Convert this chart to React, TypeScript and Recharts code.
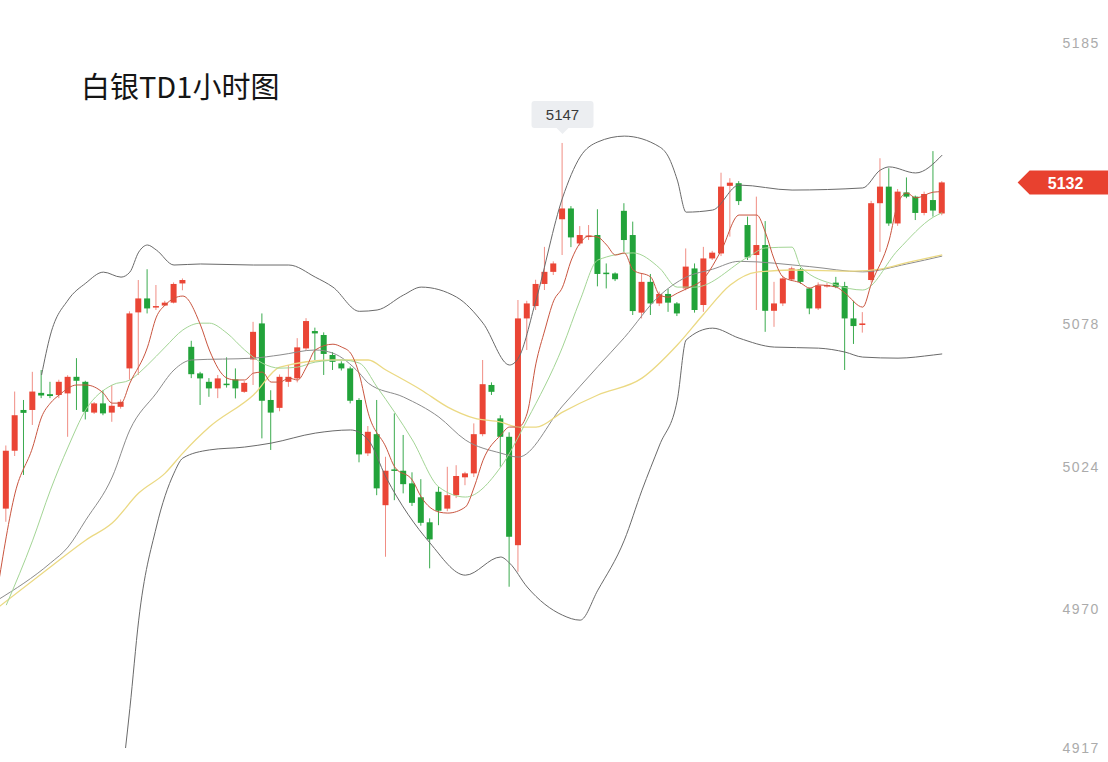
import React from 'react';
import { ComposedChart, Bar, Line, XAxis, YAxis, ReferenceLine, ReferenceDot } from 'recharts';

// 白银TD 1小时K线，逐根读图（开、高、低、收）
const opens = [
  4976, 5008, 5030, 5045.5, 5045.5, 5052, 5051.5, 5051.2, 5051.8, 5058.1,
  5056.2, 5044.5, 5048, 5044.5, 5046.7, 5061.3, 5082.6, 5087.9, 5084.5, 5085.2,
  5086.3, 5093.6, 5069.5, 5059.4, 5056.2, 5053.7, 5055.5, 5057.1, 5052.4, 5064.7,
  5078.4, 5049.3, 5046.3, 5056.2, 5057.5, 5068.9, 5075.5, 5074, 5066.4, 5063.2,
  5061.3, 5049.3, 5029, 5036.3, 5009.3, 5022.9, 5022.4, 5017.6, 5012.3, 5002.8,
  5014.4, 5008, 5013.1, 5019.9, 5021.4, 5036.3, 5055, 5042.3, 5035.3, 4994.1,
  5080.3, 5085, 5093.4, 5098, 5118, 5122.1, 5108.8, 5111.4, 5112, 5097.7,
  5097.4, 5121.2, 5112, 5082.5, 5094.2, 5086, 5089.6, 5086, 5091.7, 5099.3,
  5085.4, 5103.1, 5105, 5130.7, 5131.7, 5115.8, 5104.4, 5108.2, 5083.2, 5086,
  5095.1, 5099, 5091.7, 5084.1, 5092.6, 5093.9, 5092.6, 5080.3, 5077.8, 5094.9,
  5124.1, 5130.4, 5116.4, 5128.2, 5126.6, 5120.4, 5125.3, 5120.2,
];
const highs = [
  4978, 5032, 5052.5, 5049.3, 5060, 5060.7, 5056.2, 5057, 5058.7, 5065.2,
  5056.6, 5048.5, 5053, 5055, 5049.5, 5083, 5094.9, 5099, 5093, 5087,
  5094, 5095.5, 5071.8, 5060, 5057.6, 5058.8, 5065.5, 5061.3, 5056.5, 5079,
  5082.2, 5053, 5059, 5062.6, 5072.8, 5080.4, 5076.8, 5075, 5067.5, 5064,
  5062, 5050, 5039.4, 5049.3, 5027.7, 5044.2, 5036, 5021.8, 5019.2, 5004.3,
  5016.3, 5023.9, 5024.5, 5022, 5040.4, 5064.5, 5056, 5043.5, 5037, 5087.3,
  5087, 5095, 5107.5, 5102, 5147, 5123, 5115.4, 5115.8, 5121.8, 5101.2,
  5097.8, 5124.1, 5117.1, 5097.2, 5097.2, 5090.5, 5091.5, 5086.5, 5106.9, 5101.2,
  5107.5, 5106, 5135.7, 5133.6, 5132.5, 5119, 5126.6, 5117.3, 5094.2, 5096.5,
  5100, 5099.5, 5092, 5094, 5093.8, 5096.1, 5094.2, 5087, 5082.7, 5125,
  5141.2, 5137.4, 5129.5, 5133.9, 5127, 5128.5, 5143.9, 5132.5,
];
const lows = [
  4964, 5003, 5028, 5020.8, 5039.8, 5050, 5050, 5050, 5035.3, 5045.5,
  5041.9, 5044, 5043.5, 5041, 5046, 5057, 5058.8, 5082.2, 5083.5, 5085,
  5086, 5091, 5057.6, 5047.4, 5050.5, 5050, 5054, 5049.9, 5052, 5055,
  5034.7, 5030.3, 5045, 5054.3, 5056, 5068, 5064.5, 5058.8, 5060.7, 5060.5,
  5048, 5025.6, 5028, 5013.1, 4989.7, 5011.2, 5013.8, 5009, 5001.5, 4985.3,
  5001.7, 5007, 5012, 5016.9, 5020, 5035.5, 5051.2, 5023.9, 4978.3, 4984,
  5068.3, 5083.5, 5091.1, 5096.8, 5104.4, 5107.4, 5108, 5110.1, 5092.5, 5091.7,
  5094.5, 5105.6, 5081.6, 5080.3, 5081.6, 5085, 5082.8, 5081.2, 5091, 5082.5,
  5082.8, 5102.5, 5104, 5111.4, 5123.4, 5102.5, 5083.5, 5075.2, 5077.1, 5085,
  5094.5, 5093.5, 5081.9, 5083.5, 5092, 5091.8, 5060.7, 5070.6, 5074.9, 5094,
  5105.6, 5115.5, 5115.5, 5126, 5117.7, 5119.5, 5119, 5119.5,
];
const closes = [
  4968, 5030, 5043.5, 5044.4, 5052.5, 5051, 5050.8, 5056.2, 5058.1, 5056.6,
  5044.8, 5048, 5044.2, 5047.1, 5048.6, 5082.2, 5087.9, 5084.1, 5085, 5086.3,
  5093.4, 5094.9, 5059.1, 5057.5, 5053.7, 5057.5, 5055, 5053.7, 5055.8, 5075.2,
  5049, 5044.5, 5058.1, 5058.1, 5069.3, 5079.3, 5074.6, 5066.8, 5063.8, 5061.3,
  5049, 5028.6, 5037.2, 5015.7, 5022.4, 5022.4, 5017.3, 5010.2, 5002.6, 4996.3,
  5007.2, 5013.1, 5020.4, 5021.4, 5036.3, 5055.3, 5052.4, 5035.3, 4997.3, 5080.3,
  5086, 5093.4, 5098, 5101.2, 5122.1, 5111.1, 5112, 5111.8, 5097.2, 5097.3,
  5095.2, 5110.1, 5083.1, 5094.2, 5086, 5089.6, 5086.3, 5082.2, 5100, 5083.5,
  5103.1, 5105.3, 5130.4, 5131.9, 5124.9, 5103.5, 5108.2, 5083.2, 5086, 5095.5,
  5099.3, 5094.2, 5084.1, 5092.8, 5093, 5092.3, 5080.3, 5077.4, 5078.4, 5124.1,
  5130.4, 5116.4, 5128.5, 5126.6, 5120.4, 5127.6, 5121.3, 5132,
];

// 指标线：[K线序号, 数值]
const upperBand: [number, number][] = [
  [5, 5058.8], [6, 5074], [8, 5087.3], [10, 5093.7], [12, 5097.9], [14, 5096], [15, 5097.9],
  [16, 5105.5], [17, 5108.2], [18, 5106.3], [20, 5100.6], [23, 5101], [29, 5100.6], [33, 5100.6],
  [36, 5096], [38, 5092.2], [41, 5083], [43, 5083.5], [46, 5089.2], [48, 5092.2], [52, 5088.4],
  [55, 5078.5], [58, 5062.6], [59, 5065.2], [61, 5087.3], [64, 5126.1], [66, 5141.7], [68, 5147.4],
  [71, 5149.6], [75, 5145.5], [76, 5141.7], [77, 5132.9], [78, 5120.7], [81, 5121.5], [84, 5131],
  [90, 5129.1], [98, 5129.9], [100, 5136.7], [101, 5137.9], [104, 5135.6], [107, 5142.4],
];
const midBand: [number, number][] = [
  [0, 4973.2], [6, 4987.3], [8, 4993.4], [10, 5003.6], [13, 5020], [15, 5037.9], [18, 5051.9],
  [20, 5060.7], [22, 5064.5], [29, 5065.2], [32, 5066.4], [36, 5068.3], [38, 5067.1], [41, 5059.5],
  [42, 5055.7], [46, 5050.4], [50, 5042.8], [53, 5034.1], [57, 5029.1], [59, 5027.6], [64, 5047],
  [68, 5062], [71, 5073], [75, 5089], [78, 5096], [81, 5099], [84, 5102], [92, 5100], [98, 5098],
  [103, 5101], [107, 5104],
];
const lowerBand: [number, number][] = [
  [14, 4902], [15, 4932], [16, 4965.6], [18, 5001], [20, 5021.5], [21, 5027.2], [24, 5030.3], [28, 5031.4],
  [31, 5032.9], [36, 5036.7], [40, 5037.9], [42, 5034.1], [44, 5020], [49, 4994.9], [53, 4982.7],
  [57, 4989.6], [58, 4987.3], [60, 4978.2], [64, 4967.5], [66, 4965.6], [68, 4977], [71, 4996],
  [73, 5015], [75, 5032.2], [77, 5049.3], [78, 5072.1], [81, 5076.6], [84, 5072.8], [88, 5069.4],
  [93, 5069], [96, 5067.5], [98, 5065.6], [102, 5065.2], [106, 5066.4], [107, 5066.8],
];
const ma5: [number, number][] = [
  [0, 4977], [2, 5013.9], [4, 5031.4], [5, 5042.8], [6, 5048.1], [7, 5051.2], [9, 5055], [10, 5055],
  [12, 5051.9], [13, 5048.1], [14, 5048.1], [15, 5055.7], [17, 5069.4], [18, 5080.8], [19, 5085.4],
  [21, 5088.8], [23, 5077.8], [24, 5068.3], [26, 5057.6], [27, 5056.9], [28, 5056.9], [29, 5059.5],
  [30, 5059.9], [31, 5056.1], [32, 5056.1], [33, 5057.6], [34, 5056.9], [35, 5061.8], [36, 5068.3],
  [38, 5070.5], [39, 5069.4], [40, 5067.1], [41, 5058.8], [42, 5044.3], [44, 5031.4], [45, 5023.8],
  [47, 5018.8], [48, 5012.4], [50, 5006.7], [51, 5006.3], [53, 5008.6], [54, 5016.2], [55, 5026.4],
  [57, 5035.9], [58, 5039], [59, 5039], [60, 5044.3], [61, 5063.3], [62, 5075.9], [63, 5087],
  [64, 5092.2], [65, 5102.5], [66, 5109], [67, 5111.6], [68, 5111.2], [69, 5108.2], [70, 5104.4],
  [71, 5105.2], [72, 5098.7], [74, 5096], [75, 5089.2], [76, 5088.4], [77, 5089.9], [78, 5091.5],
  [80, 5095.5], [82, 5106.3], [84, 5119.6], [86, 5119.6], [87, 5112.8], [88, 5102.5], [89, 5096],
  [91, 5093.7], [92, 5091.8], [93, 5093], [95, 5092.2], [96, 5089.9], [98, 5084.6], [99, 5093.7],
  [101, 5110.1], [102, 5124.2], [103, 5128], [104, 5126.1], [106, 5128.3], [107, 5128.5],
];
const ma10: [number, number][] = [
  [1, 4971.3], [4, 4996], [6, 5015], [8, 5031.4], [10, 5045.5], [13, 5055], [15, 5056.9],
  [17, 5062.6], [19, 5069.4], [21, 5075.9], [23, 5078.5], [24, 5078.5], [26, 5074.7], [28, 5068.3],
  [30, 5063.3], [32, 5061.4], [34, 5061.8], [36, 5063.7], [39, 5064.5], [41, 5063.3], [43, 5054.2],
  [47, 5034.1], [50, 5016.2], [53, 5012.4], [57, 5023.8], [60, 5041.7], [64, 5069.4], [66, 5087.3],
  [68, 5102.5], [72, 5105.2], [75, 5099.4], [77, 5092.2], [79, 5092.2], [85, 5103.6], [87, 5107.1],
  [90, 5107.4], [91, 5099.8], [95, 5093], [98, 5091.1], [102, 5106.3], [106, 5118.8], [107, 5120.5],
];
const ma60: [number, number][] = [
  [0, 4970.2], [6, 4985.8], [10, 4996], [13, 5002.5], [16, 5013.9], [19, 5021.5], [21, 5029.1],
  [24, 5039], [29, 5051.2], [32, 5061.8], [38, 5064.5], [42, 5064.5], [44, 5060.7], [48, 5053.1],
  [51, 5046.6], [54, 5042.4], [57, 5040.9], [59, 5039], [61, 5039], [64, 5044.7], [68, 5051.2],
  [73, 5057.6], [77, 5070.2], [80, 5082], [83, 5093], [86, 5097.9], [90, 5098.7], [97, 5098.3],
  [100, 5099], [103, 5101.5], [107, 5104.5],
];

const yTicks = [4917, 4970, 5024, 5078, 5185];
const lastPrice = 5132;
const highMark = { index: 64, value: 5147 };

const lineSets: Record<string, [number, number][]> = {
  upper: upperBand, mid: midBand, lower: lowerBand, ma5, ma10, ma60,
};

const data = opens.map((o, i) => {
  const row: any = {
    i, open: o, high: highs[i], low: lows[i], close: closes[i], range: [lows[i], highs[i]],
  };
  Object.entries(lineSets).forEach(([key, pts]) => {
    const p = pts.find((q) => q[0] === i);
    row[key] = p ? p[1] : null;
  });
  return row;
});

const RED = '#ea4535';
const GREEN = '#22a33a';

const Candle = (props: any) => {
  let { x, y, width, height, payload } = props;
  if (height < 0) { y += height; height = -height; }
  const { open, close, high, low } = payload;
  const up = close >= open;
  const k = high === low ? 0 : height / (high - low);
  const yOf = (v: number) => y + (high - v) * k;
  const top = yOf(Math.max(open, close));
  const bot = yOf(Math.min(open, close));
  const cx = x + width / 2;
  return (
    <g>
      <line x1={cx} x2={cx} y1={y} y2={y + height} stroke={up ? '#f08d84' : '#3bab4f'} strokeWidth={1} />
      <rect x={x} y={top} width={width} height={Math.max(1.5, bot - top)} fill={up ? RED : GREEN} />
    </g>
  );
};

const CHART_W = 1115;
const PLOT_W = 953.6;

const YTick = ({ y, payload }: any) => (
  <text
    x={CHART_W - 8}
    y={y}
    textAnchor="end"
    dominantBaseline="central"
    fill="#ababab"
    fontSize={14}
    letterSpacing={1.6}
    fontFamily="'Liberation Sans', Arial, sans-serif"
  >
    {payload.value}
  </text>
);

const PriceTag = ({ viewBox }: any) => {
  const cy = viewBox.y;
  const tip = viewBox.x + viewBox.width + 71;
  return (
    <g>
      <polygon
        points={`${tip},${cy} ${tip + 12},${cy - 12} ${CHART_W},${cy - 12} ${CHART_W},${cy + 12} ${tip + 12},${cy + 12}`}
        fill="#e8412f"
      />
      <text x={tip + 48} y={cy + 1} textAnchor="middle" dominantBaseline="central" fill="#fff"
        fontSize={16} fontWeight={700} fontFamily="'Liberation Sans', Arial, sans-serif">
        {lastPrice}
      </text>
    </g>
  );
};

const HighCallout = ({ viewBox }: any) => {
  const cx = viewBox.x + viewBox.width / 2;
  const cy = viewBox.y + viewBox.height / 2;
  return (
    <g>
      <rect x={cx - 31} y={cy - 42} width={62} height={27} rx={3} fill="#eceef1" />
      <polygon points={`${cx - 6},${cy - 15} ${cx + 6},${cy - 15} ${cx},${cy - 9}`} fill="#eceef1" />
      <text x={cx} y={cy - 28} textAnchor="middle" dominantBaseline="central" fill="#3a3a3a"
        fontSize={15} fontFamily="'Liberation Sans', Arial, sans-serif">
        {highMark.value}
      </text>
    </g>
  );
};

export default function App() {
  return (
    <div style={{ position: 'absolute', left: 0, top: 0, width: 1108, height: 762, overflow: 'hidden', background: '#fff' }}>
      <div style={{ position: 'absolute', left: -7, top: 0 }}>
        <ComposedChart
          width={CHART_W}
          height={762}
          data={data}
          margin={{ top: 43, right: 0, bottom: 14, left: 0 }}
          barGap={0}
        >
          <XAxis dataKey="i" hide />
          <YAxis
            orientation="right"
            width={CHART_W - PLOT_W}
            domain={[4917, 5185]}
            ticks={yTicks}
            interval={0}
            tick={<YTick />}
            axisLine={false}
            tickLine={false}
            allowDataOverflow
          />
          <Bar dataKey="range" barSize={6} shape={<Candle />} isAnimationActive={false} />
          <Line dataKey="upper" type="monotone" stroke="#6a6a6a" strokeWidth={1} dot={false} connectNulls isAnimationActive={false} />
          <Line dataKey="lower" type="monotone" stroke="#6a6a6a" strokeWidth={1} dot={false} connectNulls isAnimationActive={false} />
          <Line dataKey="mid" type="monotone" stroke="#8c8c8c" strokeWidth={1} dot={false} connectNulls isAnimationActive={false} />
          <Line dataKey="ma60" type="monotone" stroke="#ebd983" strokeWidth={1.3} dot={false} connectNulls isAnimationActive={false} />
          <Line dataKey="ma10" type="monotone" stroke="#a3d595" strokeWidth={1} dot={false} connectNulls isAnimationActive={false} />
          <Line dataKey="ma5" type="monotone" stroke="#c9553f" strokeWidth={1} dot={false} connectNulls isAnimationActive={false} />
          <ReferenceLine y={lastPrice} stroke="none" label={<PriceTag />} />
          <ReferenceDot x={highMark.index} y={highMark.value} r={1} fill="none" stroke="none" label={<HighCallout />} />
        </ComposedChart>
      </div>
      <div
        style={{
          position: 'absolute', left: 81, top: 65, fontSize: 29, lineHeight: '40px',
          fontFamily: "'Noto Sans CJK SC', 'Noto Sans', sans-serif", color: '#151515',
        }}
      >
        白银TD1小时图
      </div>
    </div>
  );
}
